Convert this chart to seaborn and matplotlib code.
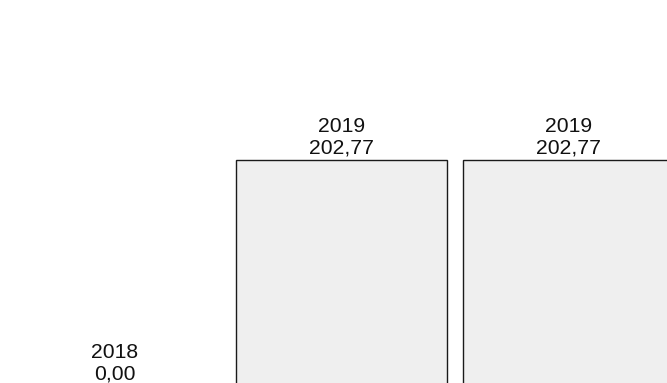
import matplotlib
matplotlib.use("Agg")
import matplotlib.pyplot as plt
import seaborn as sns
import pandas as pd

# Data
years = ["2018", "2019", "2019"]
values = [0.00, 202.77, 202.77]
positions = [0, 1, 2]

sns.set_theme(style="white")
plt.rcParams['font.family'] = ['Liberation Sans', 'DejaVu Sans']

df = pd.DataFrame({"pos": positions, "value": values, "year": years})

fig = plt.figure(figsize=(6.67, 3.83), dpi=100)
ax = fig.add_axes([0, 0, 1, 1])

sns.barplot(data=df, x="pos", y="value", ax=ax, color="#efefef",
            edgecolor="#1a1a1a", linewidth=1.0, width=0.928, saturation=1)

for p, v, yr in zip(positions, values, years):
    lbl = f"{yr}\n{v:.2f}".replace(".", ",")
    ax.annotate(lbl, (p, v), xytext=(0, 2), textcoords="offset pixels",
                ha="center", va="bottom", fontsize=15.2, color="#111111",
                linespacing=1.22, annotation_clip=False)

ax.set_xlim(-0.5066, 2.434)
ax.set_ylim(2.69, 346.3)
ax.set_axis_off()

fig.savefig("out.png", dpi=100)
